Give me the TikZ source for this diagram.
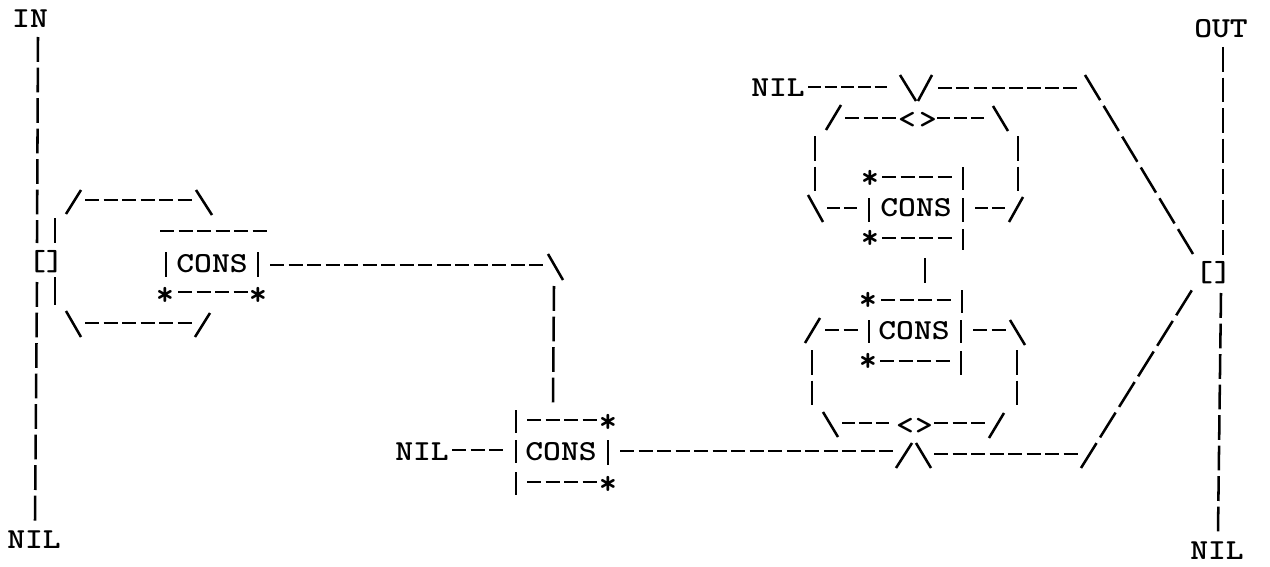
\documentclass[tikz,border=0pt]{standalone}
\newcommand\conn[4]{\coordinate (#2-a) at (#3);\coordinate (#2-b) at (#4);\draw[#1] (#2-a) -- (#2-b);}
\newcommand\gl[1]{\scalebox{1.17}[1]{#1}}
\tikzset{
  art/.style={line width=1.9pt,black},
  hd/.style={art,dash pattern=on 10.5pt off 3.4pt},
  hs/.style={art,dash pattern=on 9.7pt off 3pt},
  hn/.style={art,dash pattern=on 9.5pt off 3pt},
  hw/.style={art,dash pattern=on 10.2pt off 3.2pt},
  vd/.style={art,dash pattern=on 18.6pt off 4.3pt},
  dd/.style={art,dash pattern=on 22pt off 5pt},
  bar/.style={art,line width=1.8pt},
  sl/.style={art},
  lab/.style={inner sep=0pt,font=\fontsize{21.75}{24}\selectfont\ttfamily\bfseries},
  cons/.style={inner sep=0pt,font=\fontsize{21.75}{24}\selectfont\ttfamily\bfseries},
  br/.style={inner sep=0pt,font=\fontsize{21.75}{24}\selectfont\ttfamily\bfseries},
  st/.style={inner sep=0pt,yshift=-3.5pt,font=\fontsize{26}{28}\selectfont\ttfamily\bfseries},
}
\begin{document}
\begin{tikzpicture}[x=0.75pt,y=-0.75pt]
\useasboundingbox (0,0) rectangle (1270,567);
% labels
\node[lab] (in) at (30,19) {\gl{IN}};
\node[lab] (nilA) at (34,540) {\gl{NIL}};
\node[lab] (out) at (1221,29) {\gl{OUT}};
\node[lab] (nilB) at (1217,551) {\gl{NIL}};
\node[lab] (nilC) at (422,452) {\gl{NIL}};
\node[lab] (nilD) at (778,88) {\gl{NIL}};
% left rail
\conn{vd}{la}{38,37}{37,243}
\conn{vd}{lb}{37,282}{35,521}
\conn{bar}{lc}{55,218}{55,243}
\conn{bar}{ld}{55,277}{55,305}
\node[br] (bA) at (37,262) {\gl{[}};
\node[br] (bB) at (55,262) {\gl{]}};
% left arches
\conn{sl}{ua}{66,214}{81,190}
\conn{hd}{ub}{85,200}{192,200}
\conn{sl}{uc}{196,190}{212,215}
\conn{sl}{wa}{66,311}{81,337}
\conn{hd}{wb}{85,323}{191.7,323}
\conn{sl}{wc}{195,337}{210,313}
% first CONS
\conn{hd}{ct}{160,231}{266.7,231}
\node[cons] (consA) at (212,264) {\gl{CONS}};
\conn{bar}{cl}{166,252}{166,277}
\conn{bar}{cr}{258,252}{258,277}
\node[st] (sA) at (165,292) {*};
\node[st] (sB) at (258,292) {*};
\conn{hd}{cb}{178,292}{247.6,292}
\conn{hd}{ce}{270,265}{543.4,265}
\conn{sl}{cf}{548,254}{563,280}
\conn{vd}{cg}{554,286}{553,403}
% second CONS
\conn{bar}{dl1}{516,410}{516,433}
\conn{bar}{dl2}{516,440}{516,463}
\conn{bar}{dl3}{516,472}{516,495}
\conn{hd}{d1}{527,420}{596.6,420}
\node[st] (sC) at (608,419) {*};
\conn{hd}{d2}{527,482}{596.6,482}
\node[st] (sD) at (608,481) {*};
\conn{hd}{dn}{452,450}{503,450}
\node[cons] (consB) at (561,452) {\gl{CONS}};
\conn{bar}{dr}{608,440}{608,465}
\conn{hd}{de}{620,451}{893.4,451}
% bottom join
\conn{sl}{ja}{896,468}{912,443}
\conn{sl}{jb}{916,443}{931,468}
\conn{hd}{jc}{934,454}{1077.7,454}
\conn{dd}{jd}{1081,468}{1192,290}
% top join
\conn{hn}{ta}{808,87}{887.5,87}
\conn{sl}{tb}{900,75}{916,101}
\conn{sl}{tc}{918,101}{932,75}
\conn{hw}{td}{938,88}{1077,88}
\conn{dd}{te}{1085,75}{1193,254}
% upper loop
\conn{sl}{pa}{826,130}{841,105}
\conn{hd}{pb}{845,118}{896,118}
\node[br] (ltA) at (907,120) {\gl{<}};
\node[br] (gtA) at (928,120) {\gl{>}};
\conn{hs}{pc}{937,118}{984,118}
\conn{sl}{pd}{993,106}{1008,131}
\conn{vd}{pe}{815,136}{815,191}
\conn{vd}{pf}{1018,136}{1018,191}
\node[st] (sE) at (870,175) {*};
\conn{hd}{pg}{882,177}{951.6,177}
\conn{bar}{ph}{963,167}{963,190}
\conn{sl}{pi}{808,195}{823,222}
\conn{hs}{pj}{827,208}{857,208}
\conn{bar}{pk}{869,198}{869,222}
\node[cons] (consC) at (916,208) {\gl{CONS}};
\conn{bar}{pl}{963,198}{963,222}
\conn{hs}{pm}{975,208}{1005,208}
\conn{sl}{pn}{1009,222}{1023,197}
\node[st] (sF) at (870,235) {*};
\conn{hd}{po}{882,238}{951.6,238}
\conn{bar}{pp}{963,229}{963,250}
\conn{bar}{mid}{925,258}{925,283}
% lower loop
\node[st] (sG) at (868,297) {*};
\conn{hd}{qa}{881,300}{950.6,300}
\conn{bar}{qb}{962,290}{962,313}
\conn{sl}{qc}{805,343}{820,318}
\conn{hd}{qd}{825,330}{857.5,330}
\conn{bar}{qe}{869,320}{869,343}
\node[cons] (consD) at (914,331) {\gl{CONS}};
\conn{bar}{qf}{961,320}{961,343}
\conn{hd}{qg}{973,330}{1005.5,330}
\conn{sl}{qh}{1010,320}{1025,345}
\node[st] (sH) at (868,358) {*};
\conn{hd}{qi}{880,361}{949.6,361}
\conn{bar}{qj}{961,351}{961,375}
\conn{vd}{qk}{812,350}{812,405}
\conn{vd}{ql}{1017,350}{1017,405.3}
\conn{sl}{qm}{823,412}{838,437}
\conn{hs}{qn}{842,423}{889,423}
\node[br] (ltB) at (905,426) {\gl{<}};
\node[br] (gtB) at (924,426) {\gl{>}};
\conn{hd}{qo}{934,423}{985,423}
\conn{sl}{qp}{989,438}{1004,413}
% right rail
\conn{vd}{ra}{1223,47}{1223,254.8}
\conn{vd}{rb}{1221,293}{1218,531.3}
\node[br] (bC) at (1204,273) {\gl{[}};
\node[br] (bD) at (1223,273) {\gl{]}};
\end{tikzpicture}
\end{document}
